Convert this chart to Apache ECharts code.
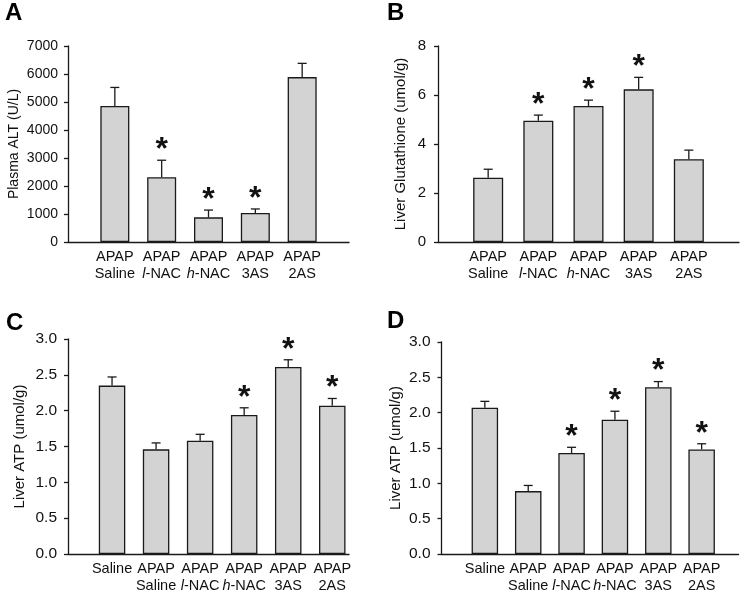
<!DOCTYPE html>
<html><head><meta charset="utf-8">
<script src="https://cdn.jsdelivr.net/npm/echarts@6/dist/echarts.min.js"></script>
<style>html,body{margin:0;padding:0;background:#fff}#c{width:752px;height:599px}</style>
</head><body><div id="c"></div>
<script>
// ---------- data ----------
const labelsAB = ['APAP\nSaline', 'APAP\n{i|l}-NAC', 'APAP\n{i|h}-NAC', 'APAP\n3AS', 'APAP\n2AS'];
const labelsCD = ['Saline', 'APAP\nSaline', 'APAP\n{i|l}-NAC', 'APAP\n{i|h}-NAC', 'APAP\n3AS', 'APAP\n2AS'];

const altMean = [4860, 2310, 880, 1035, 5890];
const altSem  = [660, 610, 260, 145, 490];
const altSig  = [0, 1, 1, 1, 0];

const gshMean = [2.62, 4.95, 5.55, 6.23, 3.38];
const gshSem  = [0.35, 0.23, 0.24, 0.49, 0.37];
const gshSig  = [0, 1, 1, 1, 0];

const atpCMean = [2.35, 1.46, 1.58, 1.94, 2.61, 2.07];
const atpCSem  = [0.12, 0.09, 0.09, 0.10, 0.10, 0.10];
const atpCSig  = [0, 0, 0, 1, 1, 1];

const atpDMean = [2.07, 0.89, 1.43, 1.90, 2.36, 1.48];
const atpDSem  = [0.09, 0.08, 0.08, 0.12, 0.08, 0.08];
const atpDSig  = [0, 0, 1, 1, 1, 1];

const yTicksA = [0, 7000, 1000];
const yTicksB = [0, 8, 2];
const yTicksCD = [0, 3, 0.5];

// ---------- layout ----------
const FONT = '"Liberation Sans", Arial, Helvetica, sans-serif';
const panels = [
  {letter: 'A', lx: 5, ly: 1, grid: {left: 68, top: 46, width: 281, height: 196}, xr: [0, 6], bw: 29,
   labels: labelsAB, mean: altMean, sem: altSem, sig: altSig, y: yTicksA, dec: 0,
   name: 'Plasma ALT (U/L)', nameSize: 14, nameGap: 47, tickSize: 14, labelMargin: 10},
  {letter: 'B', lx: 387, ly: 1, grid: {left: 438, top: 46, width: 301, height: 196}, xr: [0, 6], bw: 30,
   labels: labelsAB, mean: gshMean, sem: gshSem, sig: gshSig, y: yTicksB, dec: 0,
   name: 'Liver Glutathione (umol/g)', nameSize: 15, nameGap: 30, tickSize: 15, labelMargin: 12},
  {letter: 'C', lx: 6, ly: 311, grid: {left: 68, top: 339, width: 281, height: 215}, xr: [0, 6.38], bw: 26.5,
   labels: labelsCD, mean: atpCMean, sem: atpCSem, sig: atpCSig, y: yTicksCD, dec: 1,
   name: 'Liver ATP (umol/g)', nameSize: 15, nameGap: 41, tickSize: 15.5, labelMargin: 11},
  {letter: 'D', lx: 387, ly: 309, grid: {left: 441.5, top: 342, width: 297, height: 212}, xr: [0, 6.85], bw: 26.5,
   labels: labelsCD, mean: atpDMean, sem: atpDSem, sig: atpDSig, y: yTicksCD, dec: 1,
   name: 'Liver ATP (umol/g)', nameSize: 15, nameGap: 38, tickSize: 15.5, labelMargin: 11}
];

const INK = '#1a1a1a';
const grid = [], xAxis = [], yAxis = [], series = [], graphic = [];

function errItem(params, api) {
  const x = api.value(0), m = api.value(1), s = api.value(2), sig = api.value(3);
  const p0 = api.coord([x, m]), p1 = api.coord([x, m + s]);
  const st = {stroke: INK, lineWidth: 1.3};
  const ch = [
    {type: 'line', shape: {x1: p0[0], y1: p0[1], x2: p1[0], y2: p1[1]}, style: st},
    {type: 'line', shape: {x1: p1[0] - 4.5, y1: p1[1], x2: p1[0] + 4.5, y2: p1[1]}, style: st}
  ];
  if (sig) ch.push({type: 'text', x: p1[0], y: p1[1] + 6,
    style: {text: '*', font: 'bold 32px ' + FONT, textAlign: 'center', textVerticalAlign: 'bottom', fill: '#111'}});
  return {type: 'group', children: ch};
}

panels.forEach((p, k) => {
  grid.push(Object.assign({containLabel: false}, p.grid));
  xAxis.push({
    gridIndex: k, type: 'value', min: p.xr[0], max: p.xr[1],
    axisLine: {show: true, lineStyle: {color: INK, width: 1.3}},
    axisTick: {show: false}, splitLine: {show: false},
    axisLabel: {
      customValues: p.labels.map((_, i) => i + 1),
      formatter: v => p.labels[Math.round(v) - 1] || '',
      color: '#111', fontFamily: FONT, fontSize: 14.5, lineHeight: 17.5, margin: 6,
      rich: {i: {fontStyle: 'italic', fontFamily: FONT, fontSize: 14.5, color: '#111', lineHeight: 17.5}}
    }
  });
  yAxis.push({
    gridIndex: k, type: 'value', min: p.y[0], max: p.y[1], interval: p.y[2],
    name: p.name, nameLocation: 'middle', nameRotate: 90, nameGap: p.nameGap,
    nameTextStyle: {fontFamily: FONT, fontSize: p.nameSize, color: '#111'},
    axisLine: {show: true, lineStyle: {color: INK, width: 1.3}},
    axisTick: {show: true, inside: false, length: 4, lineStyle: {color: INK, width: 1.3}},
    splitLine: {show: false},
    axisLabel: {fontFamily: FONT, fontSize: p.tickSize, color: '#111', margin: p.labelMargin,
      formatter: v => v.toFixed(p.dec)}
  });
  series.push({
    type: 'bar', xAxisIndex: k, yAxisIndex: k, barWidth: p.bw,
    itemStyle: {color: '#d3d3d3', borderColor: INK, borderWidth: 1.3},
    data: p.mean.map((m, i) => [i + 1, m]), silent: true
  });
  series.push({
    type: 'custom', xAxisIndex: k, yAxisIndex: k, renderItem: errItem, z: 5, silent: true,
    data: p.mean.map((m, i) => [i + 1, m, p.sem[i], p.sig[i]])
  });
  graphic.push({type: 'text', left: p.lx, top: p.ly,
    style: {text: p.letter, font: 'bold 24px ' + FONT, fill: '#000'}});
});

const chart = echarts.init(document.getElementById('c'), null, {renderer: 'canvas'});
chart.setOption({animation: false, backgroundColor: '#fff', grid, xAxis, yAxis, series, graphic});
</script></body></html>
